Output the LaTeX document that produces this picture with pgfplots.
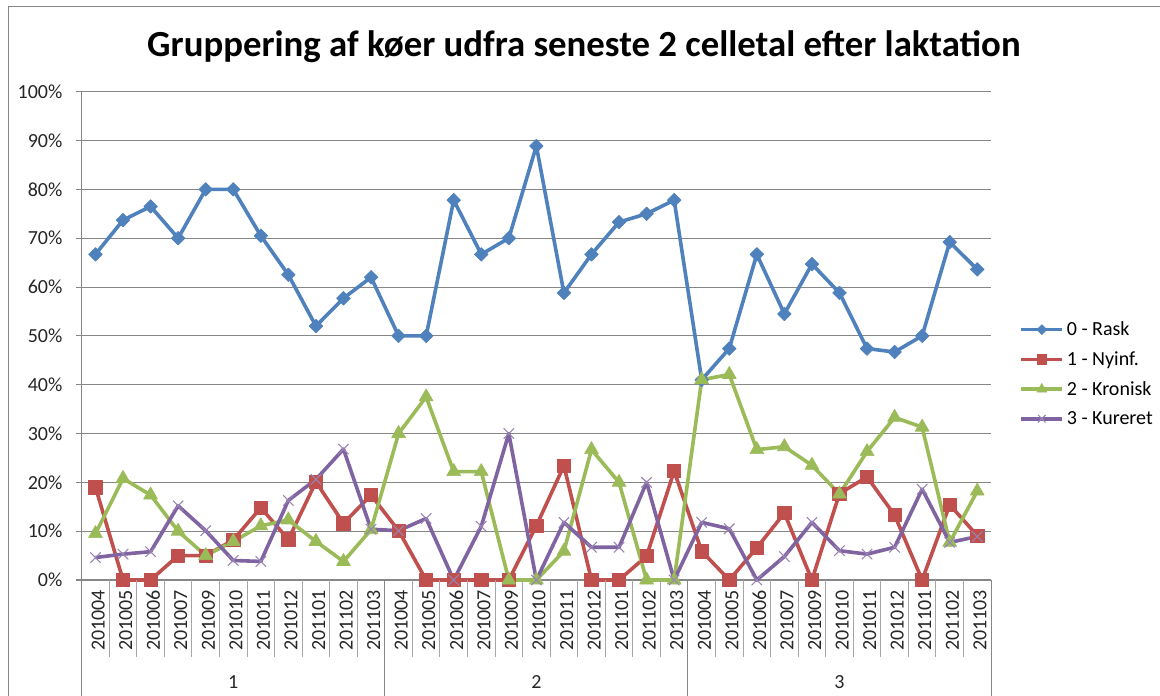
\documentclass[border=0pt]{standalone}
\usepackage{fontspec}
\setmainfont{Carlito}
\usepackage{pgfplots}
\usepackage{pgfplotstable}
\pgfplotsset{compat=1.18}
\definecolor{cblue}{HTML}{4F81BD}
\definecolor{cred}{HTML}{C0504D}
\definecolor{cgreen}{HTML}{9BBB59}
\definecolor{cpurple}{HTML}{8064A2}
\definecolor{gridc}{HTML}{868686}
\definecolor{sepc}{HTML}{A6A6A6}
\pgfplotstableread{
x rask nyinf kronisk kureret
0 66.7 19.0 9.5 4.6
1 73.7 0 20.8 5.3
2 76.5 0 17.4 5.8
3 70.0 5.0 10.0 15.2
4 80.0 5.0 5.0 10.1
5 80.0 8.2 7.9 4.0
6 70.5 14.8 11.1 3.8
7 62.5 8.3 12.3 16.3
8 52.0 20.1 7.9 20.6
9 57.7 11.6 3.8 26.8
10 62.0 17.4 10.3 10.4
11 50.0 10.1 30.0 10.1
12 50.0 0 37.5 12.6
13 77.8 0 22.2 0
14 66.7 0 22.2 11.0
15 70.0 0 0 30.0
16 88.9 11.1 0 0
17 58.8 23.4 5.9 11.8
18 66.7 0 26.7 6.7
19 73.3 0 20.0 6.7
20 75.0 4.9 0 20.0
21 77.8 22.3 0 0
22 41.0 5.9 41.0 11.8
23 47.4 0 42.1 10.5
24 66.7 6.6 26.7 0
25 54.5 13.7 27.3 4.8
26 64.7 0 23.5 11.8
27 58.8 17.7 17.6 6.0
28 47.4 21.1 26.3 5.3
29 46.7 13.3 33.3 6.7
30 50.0 0 31.3 18.6
31 69.2 15.4 7.7 7.7
32 63.6 9.1 18.2 8.9
}\datatable
\begin{document}
\begin{tikzpicture}[x=0.75pt,y=0.75pt]
\useasboundingbox (0,0) rectangle (1160,696);
% outer frame
\draw[gridc,line width=0.75pt] (8,-5) -- (8,689) -- (1165,689);
% title
\node[font=\bfseries\fontsize{27.6}{32}\selectfont] at (584,649) {Gruppering af køer udfra seneste 2 celletal efter laktation};
\begin{axis}[
  at={(61.275pt,87pt)}, anchor=south west,
  scale only axis, width=682pt, height=366.2pt,
  xmin=-0.5, xmax=32.5, ymin=0, ymax=100,
  axis lines=left,
  axis line style={-, draw=gridc, line width=0.75pt},
  ytick={0,10,...,100},
  yticklabels={0\%,10\%,20\%,30\%,40\%,50\%,60\%,70\%,80\%,90\%,100\%},
  ymajorgrids,
  grid style={draw=gridc, line width=0.75pt},
  tick align=outside,
  major tick length=4pt,
  ytick style={draw=gridc, line width=0.75pt},
  xtick={0,...,32},
  xticklabels={201004,201005,201006,201007,201009,201010,201011,201012,201101,201102,201103,
               201004,201005,201006,201007,201009,201010,201011,201012,201101,201102,201103,
               201004,201005,201006,201007,201009,201010,201011,201012,201101,201102,201103},
  xtick style={draw=none},
  ticklabel style={font=\fontsize{15}{18}\selectfont, text=black!85},
  yticklabel style={xshift=-7pt},
  xticklabel style={rotate=90, anchor=east, yshift=-2pt},
  clip=false,
  legend style={draw=none, fill=none, at={(1.0264,0.422)}, anchor=west,
    font=\fontsize{15}{18}\selectfont, row sep=6.5pt},
  legend cell align=left,
  legend image code/.code={\draw[mark repeat=2,mark phase=2,#1,every mark/.append style={scale=0.72}] plot coordinates {(0pt,0pt) (15.5pt,0pt) (31pt,0pt)};},
  every axis plot/.append style={line width=2.7pt, line join=round},
]
\addplot[cblue, mark=square*, mark size=3.6pt, mark options={rotate=45, line width=0.5pt, fill=cblue}] table[x=x,y=rask] {\datatable};
\addlegendentry{0 - Rask}
\addplot[cred, mark=square*, mark size=5pt, mark options={line width=0.5pt, fill=cred}] table[x=x,y=nyinf] {\datatable};
\addlegendentry{1 - Nyinf.}
\addplot[cgreen, mark=triangle*, mark size=6pt, mark options={line width=0.5pt, fill=cgreen}] table[x=x,y=kronisk] {\datatable};
\addlegendentry{2 - Kronisk}
\addplot[cpurple, mark=x, mark size=5.5pt, mark options={line width=0.8pt, draw=cpurple!80}] table[x=x,y=kureret] {\datatable};
\addlegendentry{3 - Kureret}
\end{axis}
% category separators
\foreach \k in {1,...,10,12,13,...,21,23,24,...,32}
  \draw[sepc,line width=0.75pt] (81.7+\k*27.555,116) -- (81.7+\k*27.555,39);
\foreach \k in {0,11,22,33}
  \draw[gridc,line width=0.75pt] (81.7+\k*27.555,116) -- (81.7+\k*27.555,-5);
% group labels
\foreach \g/\c in {1/5.5,2/16.5,3/27.5}
  \node[font=\fontsize{15}{18}\selectfont, text=black!85] at (81.7+\c*27.555,14) {\g};
\end{tikzpicture}
\end{document}
